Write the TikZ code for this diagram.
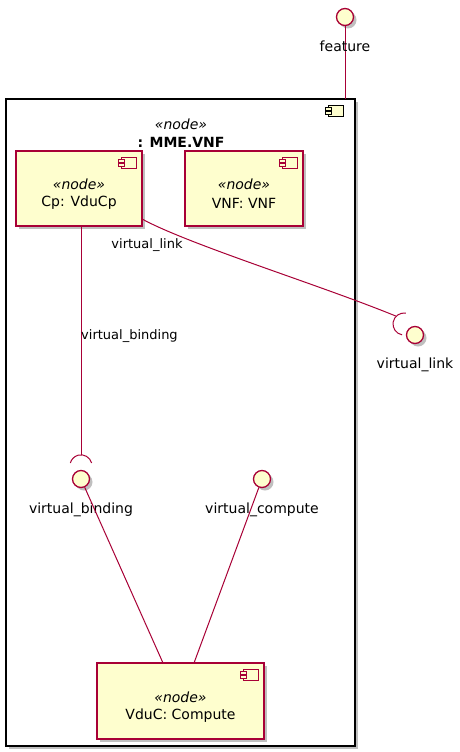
\documentclass[tikz,border=0pt]{standalone}
\usepackage{fontspec}
\setmainfont{DejaVu Sans}
\usetikzlibrary{shadows}
\definecolor{umlfill}{HTML}{FEFECE}
\definecolor{umlline}{HTML}{A80036}
\newcommand\compicon[3]{% right, top, colour
  \draw[#3,line width=1pt,fill=umlfill] (#1-21,#2+6) rectangle (#1-6,#2+17);
  \draw[#3,line width=1pt,fill=umlfill] (#1-24,#2+8.5) rectangle (#1-18,#2+11.5);
  \draw[#3,line width=1pt,fill=umlfill] (#1-24,#2+12.5) rectangle (#1-18,#2+15.5);
}
\begin{document}
\begin{tikzpicture}[x=1pt,y=-1pt,
  shad/.style={drop shadow={shadow xshift=3pt,shadow yshift=-3pt,opacity=0.25,fill=black}},
  compbox/.style={draw=umlline,fill=umlfill,line width=1.3pt,shad,inner sep=0pt},
  iface/.style={circle,draw=umlline,fill=umlfill,line width=1.3pt,minimum size=17pt,inner sep=0pt,shad},
  lbl/.style={font=\fontsize{14}{16}\selectfont,inner sep=0pt},
  elbl/.style={font=\fontsize{13}{15}\selectfont,inner sep=0pt},
  stereo/.style={font=\fontsize{14}{16}\selectfont\itshape,inner sep=0pt},
  conn/.style={draw=umlline,line width=1pt},
]
\useasboundingbox (0,0) rectangle (459,752);
% outer node
\node[draw=black,fill=white,line width=1.3pt,minimum width=349pt,minimum height=647pt,inner sep=0pt,shad] (outer) at (180.5,422.5) {};
\compicon{349}{99}{black}
\node[stereo] (outerst) at (181,124) {«node»};
\node[lbl,font=\fontsize{14}{16}\selectfont\bfseries] (outert) at (181,142) {: MME.VNF};
% inner components
\node[compbox,minimum width=126pt,minimum height=75pt] (cp) at (79,188.5) {};
\compicon{142}{151}{umlline}
\node[stereo] (cpst) at (79,184) {«node»};
\node[lbl] (cpt) at (79,203) {Cp: VduCp};
\node[compbox,minimum width=118pt,minimum height=75pt] (vnf) at (244,188.5) {};
\compicon{303}{151}{umlline}
\node[stereo] (vnfst) at (244,184) {«node»};
\node[lbl] (vnft) at (244,203) {VNF: VNF};
\node[compbox,minimum width=167pt,minimum height=76pt] (vduc) at (180.5,701) {};
\compicon{264}{663}{umlline}
\node[stereo] (vducst) at (180.5,697) {«node»};
\node[lbl] (vduct) at (180.5,716) {VduC: Compute};
% interfaces
\coordinate (outtop) at (345,99);
\node[iface] (feat) at (345,17) {};
\draw[conn] (feat) -- (outtop);
\node[lbl] (featl) at (345,46) {feature};
\node[iface] (vl) at (415,335) {};
\node[lbl] (vll) at (415,365) {virtual\_link};
\node[iface] (vb) at (81,479) {};
\node[lbl] (vbl) at (81,510) {virtual\_binding};
\node[iface] (vc) at (262,479) {};
\node[lbl] (vcl) at (262,510) {virtual\_compute};
% connectors
\coordinate (vbsock) at (81,466);
\coordinate (vbapex) at (81,455);
\draw[conn] (cp.south -| vbapex) -- (vbapex);
\draw[conn] (vbsock) ++(10.6,-3) arc[start angle=-15,end angle=-165,radius=11];
\coordinate (vlsock) at (404,324);
\coordinate (vlapex) at (396.2,316.2);
\coordinate (cpout) at (142,219);
\draw[conn] (cpout) .. controls (190,245) and (320,285) .. (vlapex);
\draw[conn] (vlsock) ++(-80:11) arc[start angle=-80,end angle=-260,radius=11];
\node[elbl] (vlel) at (147,245) {virtual\_link};
\node[elbl,anchor=west] (vbel) at (81,336) {virtual\_binding};
\coordinate (vducin1) at (163,663);
\coordinate (vducin2) at (194,663);
\draw[conn] (vb) -- (vducin1);
\draw[conn] (vc) -- (vducin2);
\end{tikzpicture}
\end{document}
